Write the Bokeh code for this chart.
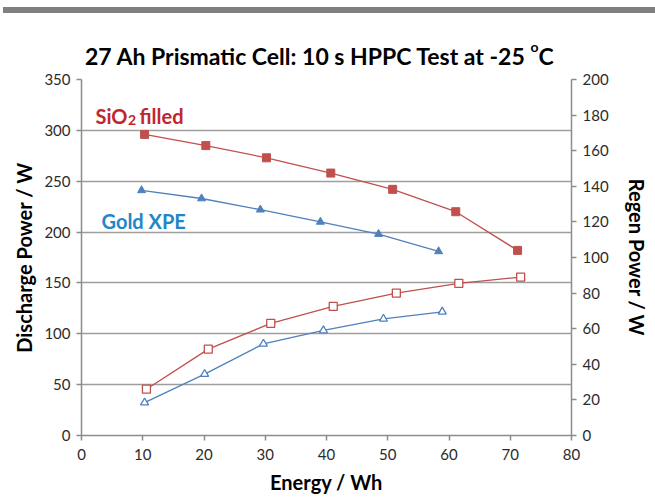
from bokeh.plotting import figure
from bokeh.models import Range1d, LinearAxis, Label, FixedTicker, Div
from bokeh.layouts import column
from bokeh.embed import file_html
from bokeh.resources import INLINE

# Energy (Wh) and power (W) per HPPC pulse level
sio2_energy_dis = [10.3, 20.3, 30.2, 40.7, 50.8, 61.1, 71.2]
sio2_discharge = [296, 285, 273, 258, 242, 220, 182]
xpe_energy_dis = [9.8, 19.6, 29.2, 39.0, 48.5, 58.3]
xpe_discharge = [241, 233, 222, 210, 198, 181]

sio2_energy_regen = [10.6, 20.7, 30.9, 41.1, 51.4, 61.6, 71.7]
sio2_regen = [26, 48.5, 63, 72.5, 80, 85.5, 89]
xpe_energy_regen = [10.3, 20.1, 29.7, 39.5, 49.3, 58.9]
xpe_regen = [18.5, 34.5, 51.5, 59, 65.5, 69.5]

x_ticks = [0, 10, 20, 30, 40, 50, 60, 70, 80]
left_ticks = [0, 50, 100, 150, 200, 250, 300, 350]
right_ticks = [0, 20, 40, 60, 80, 100, 120, 140, 160, 180, 200]

TITLE = "27 Ah Prismatic Cell: 10 s HPPC Test at -25 "
RED = "#C0504D"
BLUE = "#4F81BD"
FONT = "Lato"

W, H = 655, 502
HEAD_H = 67                     # header strip: grey rule + title
PH = H - HEAD_H                 # figure height
L, R, T, B = 81, 84, 12, 67

p = figure(width=W, height=PH, output_backend="svg", toolbar_location=None,
           x_range=Range1d(0, 80), y_range=Range1d(0, 350),
           min_border_left=L, min_border_right=R, min_border_top=T, min_border_bottom=B)
p.extra_y_ranges = {"regen": Range1d(0, 200)}
p.outline_line_color = None
p.background_fill_color = "white"
p.border_fill_color = "white"

# page pixel -> data helpers for the in-plot annotations
fw, fh = W - L - R, PH - T - B
def px_x(px):
    return (px - L) * 80 / fw
def px_y(py):
    return (H - B - py) * 350 / fh

p.xgrid.grid_line_color = None
p.ygrid.grid_line_color = "#9E9E9E"
p.ygrid.grid_line_width = 1.7
p.ygrid.ticker = FixedTicker(ticks=left_ticks)

def style_axis(ax, ticks):
    ax.ticker = FixedTicker(ticks=ticks)
    ax.axis_line_color = "#8C8C8C"
    ax.axis_line_width = 1.5
    ax.major_tick_line_color = "#8C8C8C"
    ax.major_tick_line_width = 1.5
    ax.major_tick_in = 0
    ax.major_tick_out = 5
    ax.minor_tick_line_color = None
    ax.major_label_text_font = FONT
    ax.major_label_text_font_size = "15px"
    ax.major_label_text_color = "#2B2B2B"
    ax.axis_label_text_font = FONT
    ax.axis_label_text_font_style = "bold"
    ax.axis_label_text_font_size = "20px"
    ax.axis_label_text_color = "#000000"

xa = p.xaxis[0]
style_axis(xa, x_ticks)
xa.axis_label = "Energy / Wh"
xa.major_label_standoff = 8
xa.axis_label_standoff = 7

ya = p.yaxis[0]
style_axis(ya, left_ticks)
ya.axis_label = "Discharge Power / W"
ya.major_label_standoff = 6
ya.axis_label_standoff = 5

ra = LinearAxis(y_range_name="regen")
style_axis(ra, right_ticks)
ra.axis_label = "Regen Power / W"
ra.major_label_standoff = 6
ra.axis_label_standoff = 13
p.add_layout(ra, "right")

# discharge series (left axis, filled markers)
p.line(sio2_energy_dis, sio2_discharge, line_color=RED, line_width=1.3)
p.scatter(sio2_energy_dis, sio2_discharge, marker="square", size=8,
          fill_color=RED, line_color=RED)
p.line(xpe_energy_dis, xpe_discharge, line_color=BLUE, line_width=1.3)
p.scatter(xpe_energy_dis, xpe_discharge, marker="triangle", size=8,
          fill_color=BLUE, line_color=BLUE)

# regen series (right axis, open markers)
p.line(sio2_energy_regen, sio2_regen, line_color=RED, line_width=1.3, y_range_name="regen")
p.scatter(sio2_energy_regen, sio2_regen, marker="square", size=8, y_range_name="regen",
          fill_color="white", line_color=RED, line_width=1.3)
p.line(xpe_energy_regen, xpe_regen, line_color=BLUE, line_width=1.3, y_range_name="regen")
p.scatter(xpe_energy_regen, xpe_regen, marker="triangle", size=8, y_range_name="regen",
          fill_color="white", line_color=BLUE, line_width=1.3)

def text(x, y, s, size, color="#000000", bold=True, align="left"):
    p.add_layout(Label(x=px_x(x), y=px_y(y), text=s, text_font=FONT,
                       text_font_size=f"{size}px", text_color=color,
                       text_font_style="bold" if bold else "normal",
                       text_align=align, text_baseline="alphabetic"))

# series annotations
text(127, 115, "SiO", 20, color="#C0262D", align="right")
text(127.5, 119.5, "2", 14, color="#C0262D")
text(139, 115, "filled", 20, color="#C0262D")
text(101, 220.5, "Gold XPE", 20, color="#1F86C8")

# header: grey rule across the page and the chart title with a raised "o"
header_html = (
    '<div style="position:relative;width:655px;height:67px;">'
    '<div style="position:absolute;left:3px;top:7px;width:652px;height:6px;'
    'background:#808080;"></div>'
    f'<div style="position:absolute;left:85px;top:45px;font-family:Lato;font-weight:bold;'
    f'font-size:23px;line-height:1;color:#000;white-space:nowrap;">{TITLE}'
    '<span style="font-size:14px;position:relative;top:-13px;">o</span>C</div>'
    '</div>'
)
header = Div(text=header_html, width=W, height=HEAD_H, margin=0)

layout = column(header, p, spacing=0, margin=0)
open("out.html", "w").write(file_html(layout, INLINE))
